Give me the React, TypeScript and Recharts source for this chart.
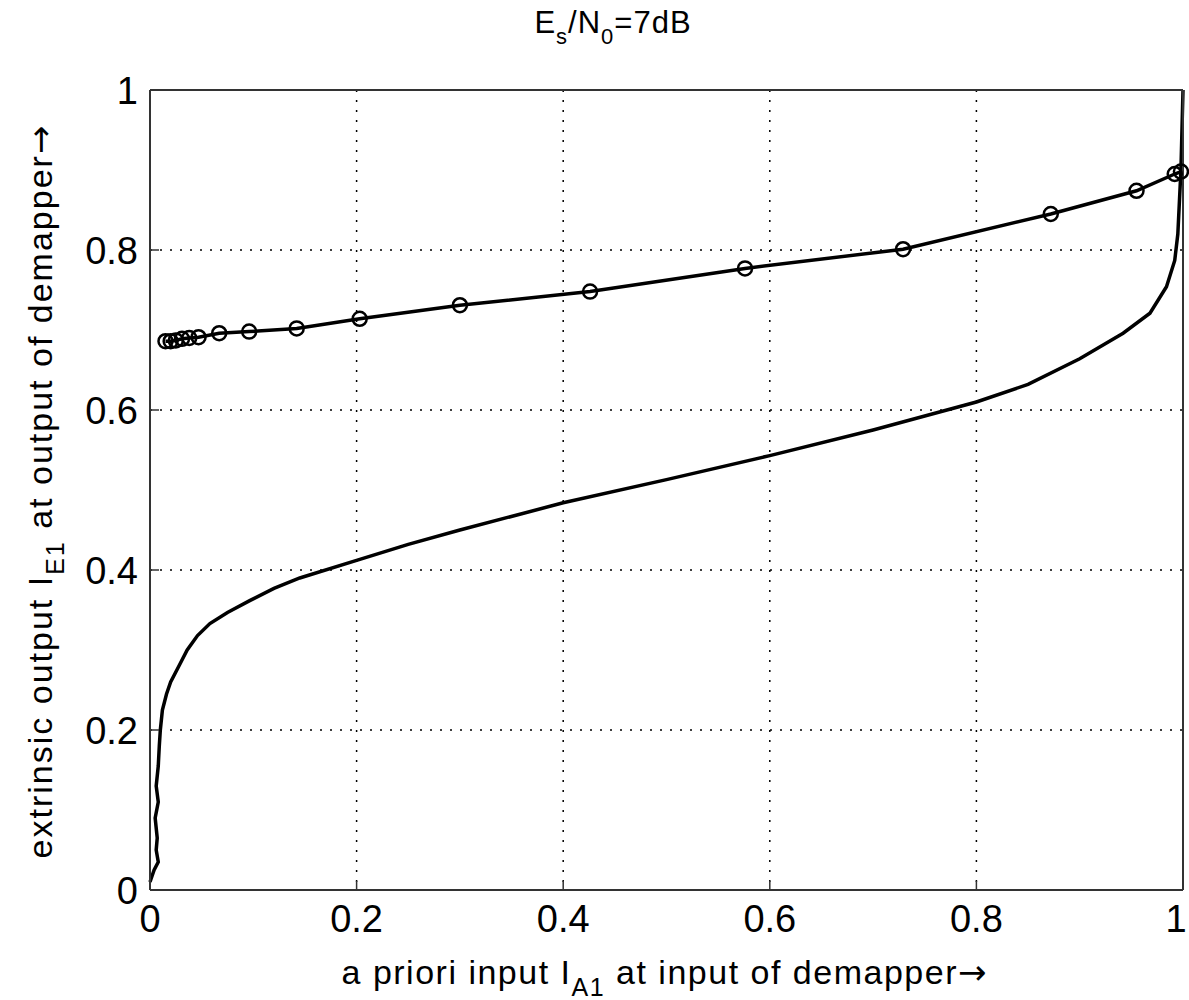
import { CartesianGrid, Line, LineChart, XAxis, YAxis } from "recharts";

const axisTicks = [0, 0.2, 0.4, 0.6, 0.8, 1];

// upper curve (with circle markers)
const upperX = [0.015, 0.02, 0.025, 0.031, 0.038, 0.047, 0.067, 0.096, 0.142, 0.203, 0.3, 0.426, 0.576, 0.729, 0.872, 0.955, 0.992, 0.998];
const upperY = [0.686, 0.686, 0.687, 0.689, 0.69, 0.691, 0.696, 0.698, 0.702, 0.714, 0.731, 0.748, 0.777, 0.801, 0.845, 0.874, 0.895, 0.898];

// lower curve (demapper characteristic)
const lowerX = [0, 0.004, 0.008, 0.006, 0.007, 0.005, 0.008, 0.006, 0.008, 0.009, 0.01, 0.012, 0.016, 0.02, 0.028, 0.036, 0.046, 0.058, 0.075, 0.097, 0.12, 0.145, 0.2, 0.25, 0.3, 0.4, 0.5, 0.6, 0.7, 0.8, 0.85, 0.9, 0.942, 0.968, 0.984, 0.992, 0.995, 0.998, 1];
const lowerY = [0.01, 0.025, 0.035, 0.05, 0.065, 0.09, 0.11, 0.13, 0.155, 0.18, 0.2, 0.225, 0.245, 0.26, 0.28, 0.3, 0.318, 0.333, 0.347, 0.362, 0.377, 0.39, 0.412, 0.432, 0.45, 0.484, 0.513, 0.543, 0.575, 0.61, 0.632, 0.664, 0.696, 0.721, 0.754, 0.787, 0.82, 0.9, 1];

const upperData = upperX.map((x, i) => ({ x, y: upperY[i] }));
const lowerData = lowerX.map((x, i) => ({ x, y: lowerY[i] }));

const font = '"Liberation Sans", Arial, Helvetica, sans-serif';
const arrowFont = '"DejaVu Sans", sans-serif';
const frame = "#333";

const fmt = (v: number) => (v === 0 || v === 1 ? String(v) : v.toFixed(1));

function BottomTick({ x, y, payload }: any) {
    // keep the last label inside the picture
    const tx = payload.value === 1 ? x - 7 : x;
    return (
        <g>
            <line x1={x} y1={y} x2={x} y2={y - 9} stroke={frame} strokeWidth={1.5} />
            <text x={tx} y={y + 42} textAnchor="middle" fontSize={38} fontFamily={font} fill="#000">
                {fmt(payload.value)}
            </text>
        </g>
    );
}

function LeftTick({ x, y, payload }: any) {
    return (
        <g>
            <line x1={x} y1={y} x2={x + 9} y2={y} stroke={frame} strokeWidth={1.5} />
            <text x={x - 12} y={y + 13.5} textAnchor="end" fontSize={38} fontFamily={font} fill="#000">
                {fmt(payload.value)}
            </text>
        </g>
    );
}

function TopTick({ x, y }: any) {
    return <line x1={x} y1={y} x2={x} y2={y + 9} stroke={frame} strokeWidth={1.5} />;
}

function RightTick({ x, y }: any) {
    return <line x1={x} y1={y} x2={x - 9} y2={y} stroke={frame} strokeWidth={1.5} />;
}

export default function App() {
    return (
        <div style={{ position: "absolute", left: 0, top: 0, width: 1189, height: 1000, background: "#fff" }}>
            <LineChart width={1189} height={1000} margin={{ top: 0, right: 0, bottom: 0, left: 0 }}>
                <CartesianGrid stroke="#000" strokeWidth={1.5} strokeDasharray="2 8" />
                <XAxis
                    dataKey="x"
                    type="number"
                    domain={[0, 1]}
                    ticks={axisTicks}
                    interval={0}
                    height={110}
                    tickSize={0}
                    tickMargin={0}
                    tickLine={false}
                    axisLine={{ stroke: frame, strokeWidth: 2 }}
                    tick={BottomTick}
                />
                <XAxis
                    xAxisId="top"
                    orientation="top"
                    type="number"
                    domain={[0, 1]}
                    ticks={axisTicks}
                    interval={0}
                    height={90}
                    tickSize={0}
                    tickMargin={0}
                    tickLine={false}
                    axisLine={{ stroke: frame, strokeWidth: 2 }}
                    tick={TopTick}
                />
                <YAxis
                    type="number"
                    domain={[0, 1]}
                    ticks={axisTicks}
                    interval={0}
                    width={150}
                    tickSize={0}
                    tickMargin={0}
                    tickLine={false}
                    axisLine={{ stroke: frame, strokeWidth: 2 }}
                    tick={LeftTick}
                />
                <YAxis
                    yAxisId="right"
                    orientation="right"
                    type="number"
                    domain={[0, 1]}
                    ticks={axisTicks}
                    interval={0}
                    width={6}
                    tickSize={0}
                    tickMargin={0}
                    tickLine={false}
                    axisLine={{ stroke: frame, strokeWidth: 2 }}
                    tick={RightTick}
                />
                <Line
                    data={lowerData}
                    dataKey="y"
                    type="linear"
                    stroke="#000"
                    strokeWidth={3.5}
                    dot={false}
                    isAnimationActive={false}
                />
                <Line
                    data={upperData}
                    dataKey="y"
                    type="linear"
                    stroke="#000"
                    strokeWidth={3.5}
                    dot={{ r: 7, stroke: "#000", strokeWidth: 2.5, fill: "none" }}
                    isAnimationActive={false}
                />
            </LineChart>
            <svg
                width={1189}
                height={1000}
                style={{ position: "absolute", left: 0, top: 0, pointerEvents: "none" }}
                fontFamily={font}
                fill="#000"
            >
                <text x={613} y={33} textAnchor="middle" fontSize={31} letterSpacing={1}>
                    E<tspan fontSize={22} dy={11}>s</tspan>
                    <tspan dy={-11}>/N</tspan>
                    <tspan fontSize={22} dy={11}>0</tspan>
                    <tspan dy={-11}>=7dB</tspan>
                </text>
                <text x={664} y={984} textAnchor="middle" fontSize={34} letterSpacing={1.5}>
                    a priori input I<tspan fontSize={25} dy={12}>A1</tspan>
                    <tspan dy={-12}> at input of demapper</tspan>
                    <tspan fontFamily={arrowFont} letterSpacing={0}>→</tspan>
                </text>
                <text
                    x={52}
                    y={492}
                    textAnchor="middle"
                    fontSize={34}
                    letterSpacing={2}
                    transform="rotate(-90 52 492)"
                >
                    extrinsic output I<tspan fontSize={25} dy={12}>E1</tspan>
                    <tspan dy={-12}> at output of demapper</tspan>
                    <tspan fontFamily={arrowFont} letterSpacing={0}>→</tspan>
                </text>
            </svg>
        </div>
    );
}
